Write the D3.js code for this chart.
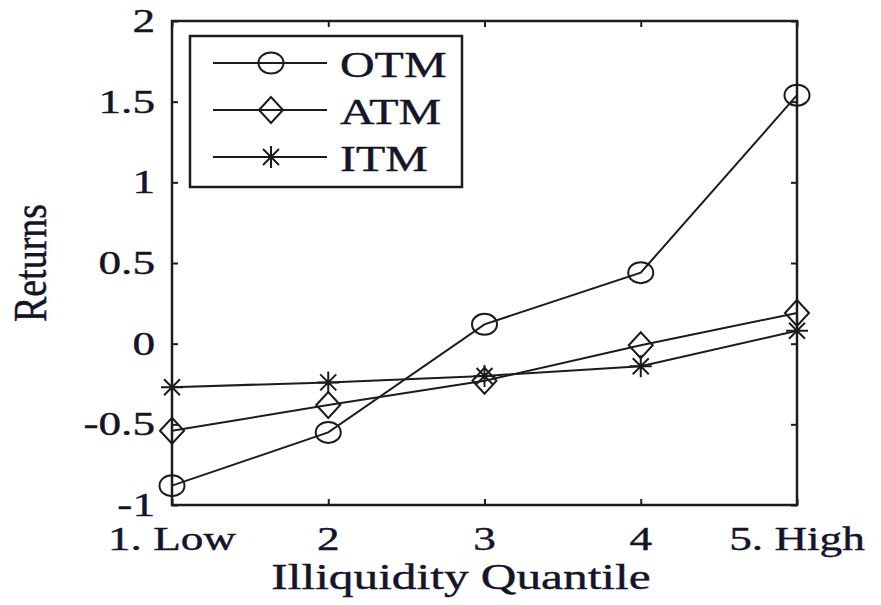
<!DOCTYPE html>
<html>
<head>
<meta charset="utf-8">
<script src="https://cdn.jsdelivr.net/npm/d3@7"></script>
<style>
  body { margin: 0; background: #fff; }
  text { font-family: "Liberation Serif", "Times New Roman", serif; fill: #14142a; stroke: #14142a; stroke-width: 0.4; }
</style>
</head>
<body>
<div id="chart"></div>
<script>
// quantile categories and tick labels
const quantiles = [1, 2, 3, 4, 5];
const quantileLabels = ["1. Low", "2", "3", "4", "5. High"];
const yTicks = [-1, -0.5, 0, 0.5, 1, 1.5, 2];

// returns per series
const otmReturns = [-0.88, -0.55, 0.12, 0.44, 1.54];
const atmReturns = [-0.54, -0.38, -0.23, -0.01, 0.19];
const itmReturns = [-0.27, -0.24, -0.20, -0.14, 0.08];

const seriesNames = ["OTM", "ATM", "ITM"];
const seriesMarkers = ["circle", "diamond", "star"];

const width = 881, height = 605;
const margin = {top: 21, right: 84, bottom: 100, left: 172};
const ink = "#1c1c1c";
const sx = 1.37; // the original figure is stretched sideways

const svg = d3.select("#chart").append("svg")
  .attr("width", width)
  .attr("height", height);

const x = d3.scalePoint()
  .domain(quantiles)
  .range([margin.left, width - margin.right]);

const y = d3.scaleLinear()
  .domain([-1, 2])
  .range([height - margin.bottom, margin.top]);

// stretched text helper
function label(g, tx, ty, str, size, anchor) {
  return g.append("text")
    .attr("transform", `translate(${tx},${ty}) scale(${sx},1)`)
    .attr("text-anchor", anchor)
    .attr("font-size", size)
    .text(str);
}

// axes, ticks pointing inward on all four sides
const tickLen = 6;
svg.append("g")
  .attr("transform", `translate(0,${y.range()[0]})`)
  .call(d3.axisTop(x).tickSize(tickLen).tickFormat(""))
  .call(g => g.select(".domain").remove());
svg.append("g")
  .attr("transform", `translate(0,${y.range()[1]})`)
  .call(d3.axisBottom(x).tickSize(tickLen).tickFormat(""))
  .call(g => g.select(".domain").remove());
svg.append("g")
  .attr("transform", `translate(${x.range()[0]},0)`)
  .call(d3.axisRight(y).tickValues(yTicks).tickSize(tickLen).tickFormat(""))
  .call(g => g.select(".domain").remove());
svg.append("g")
  .attr("transform", `translate(${x.range()[1]},0)`)
  .call(d3.axisLeft(y).tickValues(yTicks).tickSize(tickLen).tickFormat(""))
  .call(g => g.select(".domain").remove());
svg.selectAll(".tick line").attr("stroke", ink).attr("stroke-width", 2);

svg.append("rect")
  .attr("x", x.range()[0])
  .attr("y", y.range()[1])
  .attr("width", x.range()[1] - x.range()[0])
  .attr("height", y.range()[0] - y.range()[1])
  .attr("fill", "none")
  .attr("stroke", ink)
  .attr("stroke-width", 2.5);

// tick labels
quantiles.forEach((q, i) => {
  label(svg, x(q), y(-1) + 45, quantileLabels[i], 33, "middle");
});
yTicks.forEach(t => {
  label(svg, x.range()[0] - 17, y(t) + 11, String(t), 33, "end");
});

// axis titles
label(svg, 461, 589, "Illiquidity Quantile", 36, "middle");
svg.append("text")
  .attr("transform", `translate(46,263) scale(1.2,1) rotate(-90)`)
  .attr("text-anchor", "middle")
  .attr("font-size", 38)
  .text("Returns");

// markers
function drawMarker(g, type, cx, cy) {
  if (type === "circle") {
    g.append("ellipse").attr("cx", cx).attr("cy", cy)
      .attr("rx", 12.5).attr("ry", 10.5)
      .attr("fill", "none").attr("stroke", ink).attr("stroke-width", 2);
  } else if (type === "diamond") {
    g.append("path")
      .attr("d", `M${cx - 12},${cy}L${cx},${cy - 13}L${cx + 12},${cy}L${cx},${cy + 13}Z`)
      .attr("fill", "none").attr("stroke", ink).attr("stroke-width", 2);
  } else {
    const a = 11, b = 8;
    g.append("path")
      .attr("d", `M${cx - a},${cy}L${cx + a},${cy}M${cx},${cy - a}L${cx},${cy + a}` +
        `M${cx - b},${cy - b}L${cx + b},${cy + b}M${cx - b},${cy + b}L${cx + b},${cy - b}`)
      .attr("fill", "none").attr("stroke", ink).attr("stroke-width", 2);
  }
}

const allSeries = [otmReturns, atmReturns, itmReturns];
const line = d3.line()
  .x((d, i) => x(quantiles[i]))
  .y(d => y(d));

const plot = svg.append("g");
allSeries.forEach((vals, s) => {
  plot.append("path")
    .attr("d", line(vals))
    .attr("fill", "none")
    .attr("stroke", ink)
    .attr("stroke-width", 2);
  vals.forEach((v, i) => drawMarker(plot, seriesMarkers[s], x(quantiles[i]), y(v)));
});

// legend
const legend = svg.append("g");
legend.append("rect")
  .attr("x", 190).attr("y", 36)
  .attr("width", 272).attr("height", 151)
  .attr("fill", "#fff")
  .attr("stroke", ink)
  .attr("stroke-width", 2.5);
seriesNames.forEach((name, s) => {
  const ly = 63 + s * 47;
  legend.append("line")
    .attr("x1", 213).attr("x2", 327)
    .attr("y1", ly).attr("y2", ly)
    .attr("stroke", ink).attr("stroke-width", 2);
  drawMarker(legend, seriesMarkers[s], 271, ly);
  label(legend, 340, ly + 14, name, 35, "start");
});
</script>
</body>
</html>
